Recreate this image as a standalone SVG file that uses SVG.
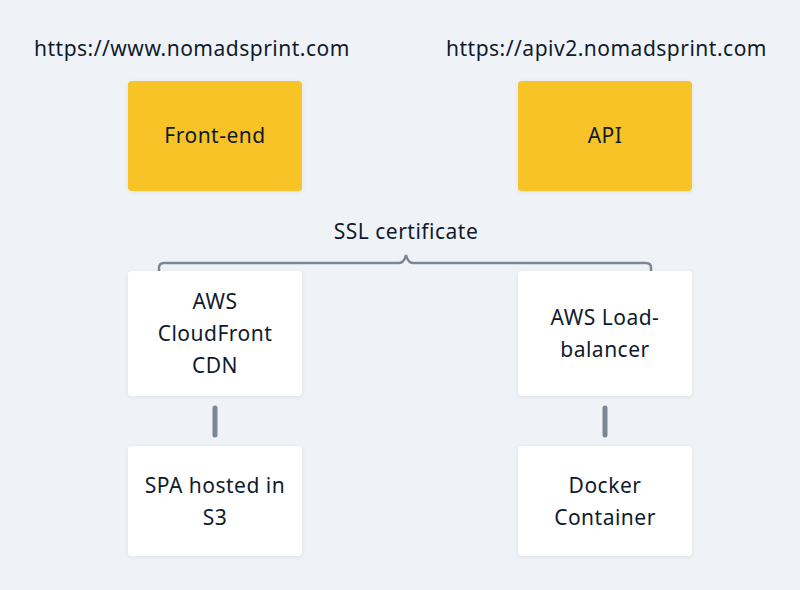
<svg xmlns="http://www.w3.org/2000/svg" width="800" height="590" viewBox="0 0 800 590">
<defs>
<style>
.bg{fill:#eff3f7}
.yel{fill:#f8c325}
.wht{fill:#ffffff}
.node rect{filter:url(#sh)}
text{font-family:"Noto Sans","DejaVu Sans",sans-serif;font-size:21px;letter-spacing:0.5px;fill:#0f1b2d}
.c{text-anchor:middle}
.conn{stroke:#7b8795;stroke-width:5;stroke-linecap:round;fill:none}
.brace{stroke:#7b8795;stroke-width:2.5;fill:none}
</style>
<filter id="sh" x="-10%" y="-10%" width="120%" height="130%">
<feDropShadow dx="0" dy="1" stdDeviation="2" flood-color="#000" flood-opacity="0.08"/>
</filter>
</defs>
<rect class="bg" x="0" y="0" width="800" height="590"/>
<text id="url-www" x="34" y="56">https://www.nomadsprint.com</text>
<text id="url-api" x="446" y="56">https://apiv2.nomadsprint.com</text>
<g id="frontend" class="node">
<rect class="yel" x="128" y="81" width="174" height="110" rx="4"/>
<text class="c" x="215" y="143">Front-end</text>
</g>
<g id="api" class="node">
<rect class="yel" x="518" y="81" width="174" height="110" rx="4"/>
<text class="c" x="605" y="143">API</text>
</g>
<g id="ssl">
<text class="c" x="406" y="239">SSL certificate</text>
<path class="brace" d="M159,272 V268 Q159,263 164,263 H399 Q404,263 406,255 Q408,263 413,263 H646 Q651,263 651,268 V272"/>
</g>
<g id="cloudfront" class="node">
<rect class="wht" x="128" y="271" width="174" height="125" rx="4"/>
<text class="c" x="215" y="309">AWS</text>
<text class="c" x="215" y="341">CloudFront</text>
<text class="c" x="215" y="373">CDN</text>
</g>
<g id="loadbalancer" class="node">
<rect class="wht" x="518" y="271" width="174" height="125" rx="4"/>
<text class="c" x="605" y="325">AWS Load-</text>
<text class="c" x="605" y="357">balancer</text>
</g>
<g id="spa" class="node">
<rect class="wht" x="128" y="446" width="174" height="110" rx="4"/>
<text class="c" x="215" y="493">SPA hosted in</text>
<text class="c" x="215" y="525">S3</text>
</g>
<g id="docker" class="node">
<rect class="wht" x="518" y="446" width="174" height="110" rx="4"/>
<text class="c" x="605" y="493">Docker</text>
<text class="c" x="605" y="525">Container</text>
</g>
<g id="connectors">
<line class="conn" x1="215" y1="408" x2="215" y2="435"/>
<line class="conn" x1="605" y1="408" x2="605" y2="435"/>
</g>
</svg>
